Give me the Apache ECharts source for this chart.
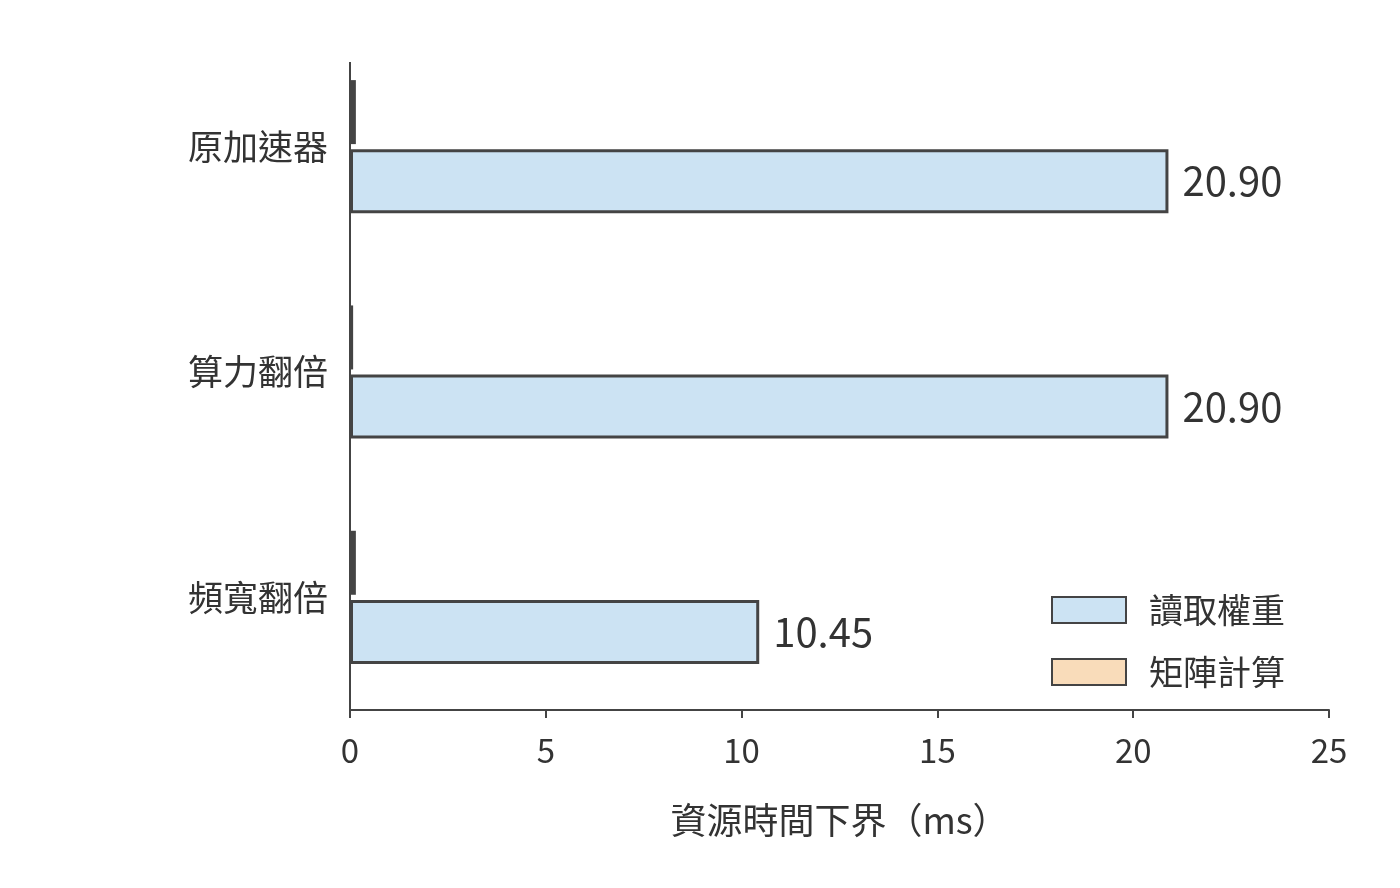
<!DOCTYPE html><html><head><meta charset="utf-8"><script src="https://cdn.jsdelivr.net/npm/echarts@6/dist/echarts.min.js"></script></head><body style="margin:0"><div id="c" style="width:1400px;height:888px"></div><script>
const categories=['頻寬翻倍','算力翻倍','原加速器'];
const readWeights=[10.45,20.90,20.90];
const compute=[0.15,0.08,0.15];
const xTicks=[0,5,10,15,20,25];
const F='"Noto Sans CJK TC","Noto Sans CJK SC",sans-serif';
const c=echarts.init(document.getElementById('c'));
c.setOption({
 animation:false,
 textStyle:{fontFamily:F},
 grid:{left:350,right:71,top:34,bottom:178},
 graphic:[{type:'line',shape:{x1:350,y1:62,x2:350,y2:710},style:{stroke:'#444',lineWidth:2},z:100}],
 legend:{orient:'vertical',left:1046,top:588,itemWidth:74,itemHeight:26,itemGap:28,icon:'rect',
  textStyle:{fontSize:34,color:'#333',fontFamily:F,padding:[0,0,0,18]},
  data:['讀取權重','矩陣計算']},
 xAxis:{type:'value',min:0,max:25,interval:5,
  name:'資源時間下界（ms）',nameLocation:'middle',nameGap:92,nameTextStyle:{fontSize:36,color:'#333',fontFamily:F},
  axisLine:{show:true,lineStyle:{color:'#444',width:2}},axisTick:{show:true,length:8,lineStyle:{color:'#444',width:2}},
  axisLabel:{fontSize:33,color:'#333',margin:24},splitLine:{show:false}},
 yAxis:{type:'category',data:categories,
  axisLine:{show:false},axisTick:{length:8,alignWithLabel:true,lineStyle:{color:'#222',width:3}},
  axisLabel:{fontSize:35,color:'#333',margin:22}},
 series:[
  {name:'矩陣計算',type:'bar',data:compute,barWidth:64,barGap:'8%',
   itemStyle:{color:'#f9dcba',borderColor:'#444',borderWidth:3}},
  {name:'讀取權重',type:'bar',data:readWeights,barWidth:64,
   itemStyle:{color:'#cce3f3',borderColor:'#444',borderWidth:3},
   label:{show:true,position:'right',distance:14,fontSize:40,color:'#333',formatter:p=>p.value.toFixed(2)}}
 ]
});
</script></body></html>
